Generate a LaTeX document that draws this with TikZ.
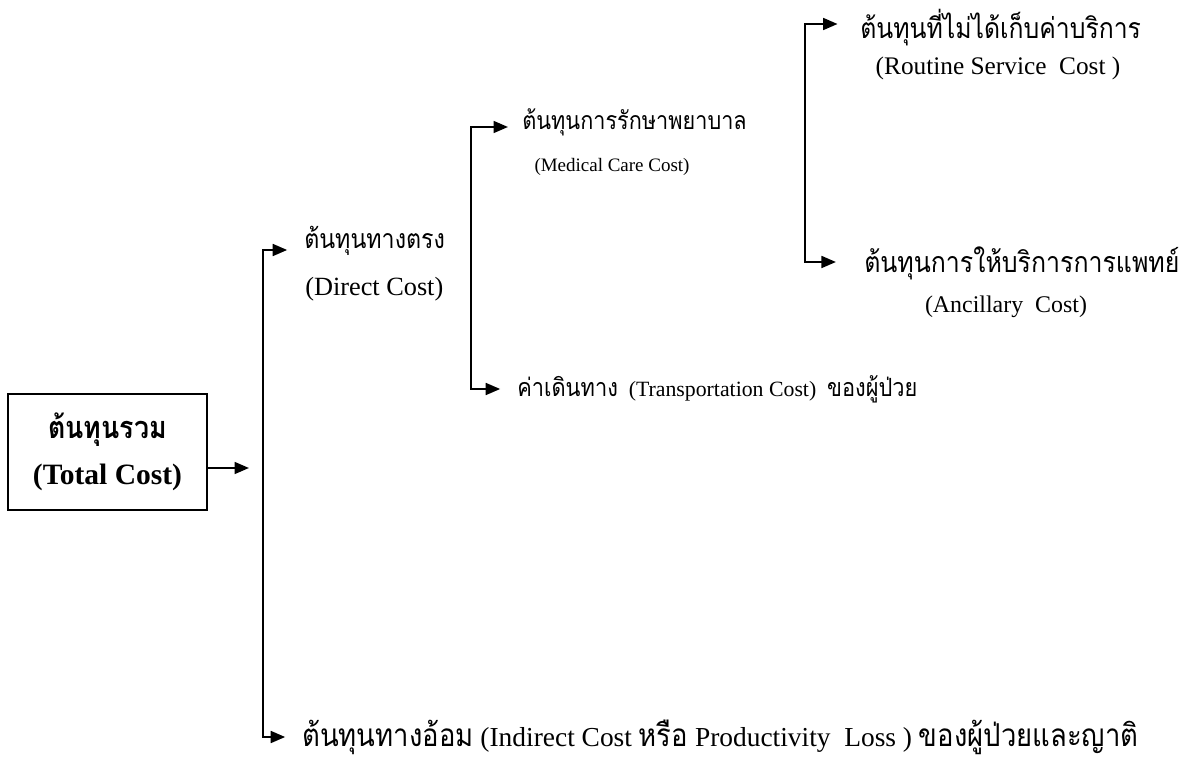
\documentclass[tikz,border=0pt]{standalone}
\usepackage{fontspec}
\setmainfont{Liberation Serif}
\newfontfamily\thaifont[Script=Thai,Scale=1.15,FakeStretch=0.87]{Loma}
\newcommand{\thaitext}[1]{{\thaifont #1}}
\newcommand{\fsz}[1]{\fontsize{#1}{#1}\selectfont}
\usetikzlibrary{arrows.meta,positioning}

\begin{document}
\begin{tikzpicture}[
  x=0.025cm, y=-0.025cm,
  lbl/.style={inner sep=0pt},
  box/.style={draw, line width=1.2pt, minimum width=4.975cm, minimum height=2.9cm,
              align=center, font=\fontsize{21}{33}\selectfont\bfseries},
  ar/.style={-{Triangle[length=3.6mm,width=3mm]}, line width=1.2pt}
]
  \useasboundingbox (0,0) rectangle (1189,760);

  % root
  \node[box] (total) at (107.5,452) {{\fontsize{19}{33}\selectfont\thaifont ต้นทุนรวม}\\(Total Cost)};
  \coordinate (split0) at (263,468);
  \coordinate (split1) at (471,260);
  \coordinate (split2) at (805,140);

  % level 1
  \node[lbl, anchor=west, font=\fsz{16.5}] (direct) at (304,241) {\thaitext{ต้นทุนทางตรง}};
  \node[lbl, anchor=west, font=\fsz{18.7}] (directen) at (305,289) {(Direct Cost)};
  \node[lbl, anchor=west, font=\fsz{19.5}] (indirect) at (302,737)
    {\thaitext{ต้นทุนทางอ้อม} (Indirect Cost \thaitext{หรือ} Productivity~ Loss ) \thaitext{ของผู้ป่วยและญาติ}};

  % level 2
  \node[lbl, anchor=west, font=\fsz{15.4}] (medical) at (522,122) {\thaitext{ต้นทุนการรักษาพยาบาล}};
  \node[lbl, font=\fsz{13.5}] (medicalen) at (612,167) {(Medical Care Cost)};
  \node[lbl, anchor=west, font=\fsz{15.5}] (transport) at (517,389)
    {\thaitext{ค่าเดินทาง}~ (Transportation Cost)~ \thaitext{ของผู้ป่วย}};

  % level 3
  \node[lbl, anchor=west, font=\fsz{17.6}] (routine) at (860,28) {\thaitext{ต้นทุนที่ไม่ได้เก็บค่าบริการ}};
  \node[lbl, font=\fsz{18}] (routineen) at (998,68) {(Routine Service~ Cost )};
  \node[lbl, anchor=west, font=\fsz{17.7}] (ancillary) at (864,263) {\thaitext{ต้นทุนการให้บริการการแพทย์}};
  \node[lbl, font=\fsz{17}] (ancillaryen) at (1006,307) {(Ancillary~ Cost)};

  \draw[ar, shorten >=10] (total.east |- split0) -- (split0);
  \draw[ar] (split0) |- ([xshift=-12]direct.west |- 0,250);
  \draw[ar] (split0) |- ([xshift=-12]indirect.west);
  \draw[ar] (split1) |- ([xshift=-10]medical.west |- 0,127);
  \draw[ar] (split1) |- ([xshift=-12]transport.west);
  \draw[ar] (split2) |- ([xshift=-16]routine.west |- 0,24);
  \draw[ar] (split2) |- ([xshift=-20]ancillary.west |- 0,262);
\end{tikzpicture}
\end{document}
